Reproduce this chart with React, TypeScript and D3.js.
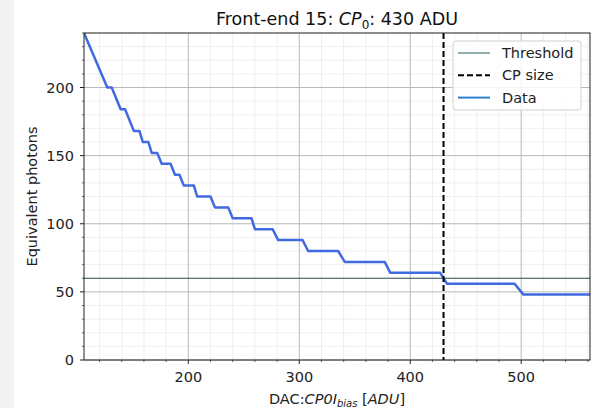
import { scaleLinear, line, range } from 'd3'

const width = 594
const height = 408
const margin = { top: 33, right: 4, bottom: 48, left: 84 }

// step curve (DAC bias -> equivalent photons)
const biasValues = [106, 127, 131, 139, 143, 151, 156, 159, 164, 167, 172, 176, 184, 188, 192, 196, 205, 208, 220, 224, 236, 240, 257, 260, 276, 281, 303, 308, 335, 341, 377, 382, 427, 433, 494, 502, 562]
const photonValues = [240, 200, 200, 184, 184, 168, 168, 160, 160, 152, 152, 144, 144, 136, 136, 128, 128, 120, 120, 112, 112, 104, 104, 96, 96, 88, 88, 80, 80, 72, 72, 64, 64, 56, 56, 48, 48]

const threshold = 60
const cpSize = 430
const xTicks = [200, 300, 400, 500]
const yTicks = [0, 50, 100, 150, 200]
const legendLabels = ['Threshold', 'CP size', 'Data']

const dataColor = '#4169e1'
const thresholdColor = '#2f4f4f'
const font = 'DejaVu Sans, sans-serif'
const fs = 14.5

function App() {
  const innerWidth = width - margin.left - margin.right
  const innerHeight = height - margin.top - margin.bottom

  const xScale = scaleLinear().domain([106, 562]).range([0, innerWidth])
  const yScale = scaleLinear().domain([0, 240]).range([innerHeight, 0])

  const xMinor = range(120, 562, 20).filter(v => !xTicks.includes(v))
  const yMinor = range(10, 241, 10).filter(v => !yTicks.includes(v))

  const points = biasValues.map((b, i) => [b, photonValues[i]] as [number, number])
  const dataLine = line<[number, number]>()
    .x(d => xScale(d[0]))
    .y(d => yScale(d[1]))

  const legendX = 453 - margin.left
  const legendY = 41 - margin.top

  return (
    <div style={{ position: 'fixed', left: 0, top: 0 }}>
      <svg width={width} height={height} style={{ display: 'block', background: 'white' }}>
        <rect x={0} y={0} width={14} height={height} fill="#f2f2f2" />
        <text x={margin.left + innerWidth / 2} y={25} textAnchor="middle" fontFamily={font} fontSize={17.5} fill="#111">
          Front-end 15: <tspan fontStyle="italic">CP</tspan>
          <tspan fontSize={12} dy={4}>0</tspan>
          <tspan dy={-4}>: 430 ADU</tspan>
        </text>
        <g transform={`translate(${margin.left},${margin.top})`}>
          <defs>
            <clipPath id="plot-clip">
              <rect width={innerWidth} height={innerHeight} />
            </clipPath>
          </defs>
          {xMinor.map(v => (
            <line key={'xm' + v} x1={xScale(v)} x2={xScale(v)} y1={0} y2={innerHeight} stroke="#ebebeb" strokeWidth={0.8} />
          ))}
          {yMinor.map(v => (
            <line key={'ym' + v} x1={0} x2={innerWidth} y1={yScale(v)} y2={yScale(v)} stroke="#ebebeb" strokeWidth={0.8} />
          ))}
          {xTicks.map(v => (
            <line key={'xg' + v} x1={xScale(v)} x2={xScale(v)} y1={0} y2={innerHeight} stroke="#b8b8b8" strokeWidth={1} />
          ))}
          {yTicks.map(v => (
            <line key={'yg' + v} x1={0} x2={innerWidth} y1={yScale(v)} y2={yScale(v)} stroke="#b8b8b8" strokeWidth={1} />
          ))}
          <g clipPath="url(#plot-clip)">
            <line x1={0} x2={innerWidth} y1={yScale(threshold)} y2={yScale(threshold)} stroke={thresholdColor} strokeWidth={1} />
            <path d={dataLine(points) ?? ''} fill="none" stroke={dataColor} strokeWidth={2.5} strokeLinejoin="round" />
            <line x1={xScale(cpSize)} x2={xScale(cpSize)} y1={0} y2={innerHeight} stroke="black" strokeWidth={2} strokeDasharray="6,3" />
          </g>
          <rect width={innerWidth} height={innerHeight} fill="none" stroke="#222" strokeWidth={1} />
          {xTicks.map(v => (
            <g key={'xt' + v} transform={`translate(${xScale(v)},${innerHeight})`}>
              <line y2={4} stroke="#222" />
              <text y={22} textAnchor="middle" fontFamily={font} fontSize={fs} fill="#222">{v}</text>
            </g>
          ))}
          {xMinor.map(v => (
            <line key={'xmt' + v} x1={xScale(v)} x2={xScale(v)} y1={innerHeight} y2={innerHeight + 2} stroke="#222" strokeWidth={0.7} />
          ))}
          {yTicks.map(v => (
            <g key={'yt' + v} transform={`translate(0,${yScale(v)})`}>
              <line x2={-4} stroke="#222" />
              <text x={-10} dy="0.35em" textAnchor="end" fontFamily={font} fontSize={fs} fill="#222">{v}</text>
            </g>
          ))}
          {yMinor.map(v => (
            <line key={'ymt' + v} x1={0} x2={-2} y1={yScale(v)} y2={yScale(v)} stroke="#222" strokeWidth={0.7} />
          ))}
          <text
            transform={`translate(${37 - margin.left},${innerHeight / 2}) rotate(-90)`}
            textAnchor="middle" fontFamily={font} fontSize={fs} fill="#222"
          >Equivalent photons</text>
          <text x={innerWidth / 2} y={innerHeight + 44} textAnchor="middle" fontFamily={font} fontSize={fs} fill="#222">
            DAC:<tspan fontStyle="italic">CP0I</tspan>
            <tspan fontStyle="italic" fontSize={10} dy={3}>bias</tspan>
            <tspan dy={-3}> [</tspan>
            <tspan fontStyle="italic">ADU</tspan>]
          </text>
          <g transform={`translate(${legendX},${legendY})`}>
            <rect width={128} height={69} rx={3} fill="white" fillOpacity={0.85} stroke="#d0d0d0" />
            {legendLabels.map((label, i) => (
              <g key={label} transform={`translate(0,${12 + i * 22.3})`}>
                <line x1={5} x2={37} stroke={i === 0 ? '#4a7575' : i === 1 ? 'black' : '#2f80cc'}
                  strokeWidth={i === 0 ? 1.2 : 2} strokeDasharray={i === 1 ? '6,3' : undefined} />
                <text x={49} dy="0.35em" fontFamily={font} fontSize={fs} fill="#222">{label}</text>
              </g>
            ))}
          </g>
        </g>
      </svg>
    </div>
  )
}

export default App
